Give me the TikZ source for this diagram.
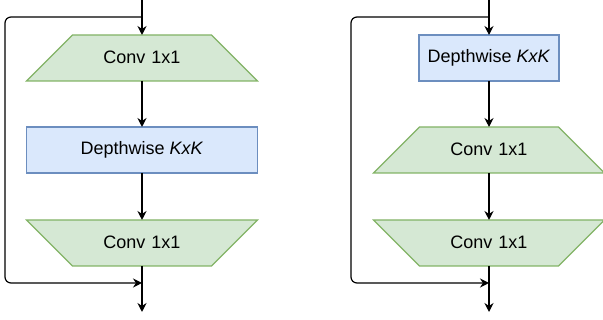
\documentclass[tikz,border=0pt]{standalone}
\usepackage{fontspec}
\setmainfont{Liberation Sans}
\usetikzlibrary{shapes.geometric,arrows.meta}
\definecolor{convfill}{HTML}{D5E8D4}
\definecolor{convline}{HTML}{82B366}
\definecolor{dwfill}{HTML}{DAE8FC}
\definecolor{dwline}{HTML}{6C8EBF}
\tikzset{
  conv/.style={trapezium, trapezium angle=45, inner sep=0pt, outer sep=0pt,
    text width=139pt, align=center, text height=29pt, text depth=17pt,
    fill=convfill, draw=convline, line width=1.2pt},
  convdown/.style={conv, shape border rotate=180},
  dw/.style={rectangle, minimum height=46pt, inner sep=0pt, outer sep=0pt,
    fill=dwfill, draw=dwline, line width=1.2pt},
  link/.style={line width=1.2pt, -{Stealth[length=9pt,width=9pt,inset=3pt]}}
}
\begin{document}
\begin{tikzpicture}[x=1pt,y=1pt,font=\fontsize{18}{22}\selectfont]
\useasboundingbox (0,0) rectangle (603,320);
% left block
\coordinate (ina) at (142,320);
\coordinate (splita) at (142,303);
\node[conv] (conva) at (142,262){Conv 1x1};
\node[dw, minimum width=231pt] (dwa) at (142,170){Depthwise \textit{KxK}};
\node[convdown] (convb) at (142,77){Conv 1x1};
\coordinate (joina) at (142,37);
\coordinate (outa) at (142,8);
\coordinate (skipa) at (5,170);
\draw[link](ina) -- (conva.north);
\draw[link](conva.south) -- (dwa.north);
\draw[link](dwa.south) -- (convb.north);
\draw[link](convb.south) -- (outa);
\draw[link, rounded corners=6pt](splita) -| (skipa) |- (joina);
% right block
\coordinate (inb) at (489,320);
\coordinate (splitb) at (489,303);
\node[dw, minimum width=140pt] (dwb) at (489,262){Depthwise \textit{KxK}};
\node[conv] (convc) at (489,170){Conv 1x1};
\node[convdown] (convd) at (489,77){Conv 1x1};
\coordinate (joinb) at (489,37);
\coordinate (outb) at (489,8);
\coordinate (skipb) at (351,170);
\draw[link](inb) -- (dwb.north);
\draw[link](dwb.south) -- (convc.north);
\draw[link](convc.south) -- (convd.north);
\draw[link](convd.south) -- (outb);
\draw[link, rounded corners=6pt](splitb) -| (skipb) |- (joinb);
\end{tikzpicture}
\end{document}
